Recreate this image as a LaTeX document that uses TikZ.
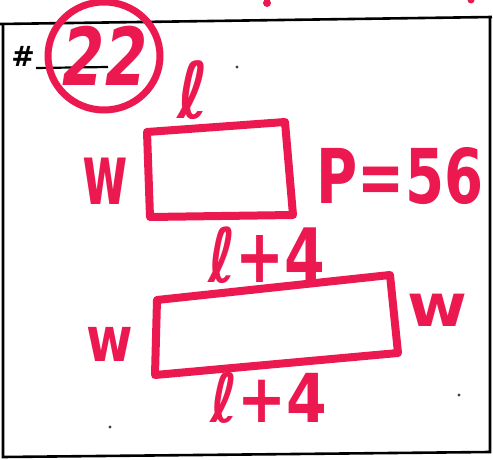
\documentclass[tikz,border=0pt]{standalone}
\usepackage{fontspec}
\newfontfamily\hand{DejaVu Sans}
\definecolor{ink}{RGB}{236,24,80}
\begin{document}
\begin{tikzpicture}[x=1pt,y=-1pt,
  frame/.style={line width=2.6pt,black},
  pen/.style={line width=8pt,ink,line join=round,line cap=round},
  lbl/.style={inner sep=0pt,text=ink,font=\hand\bfseries},
  speck/.style={fill=black!75}]
\useasboundingbox (0,0) rectangle (493,460);
% frame
\draw[frame] (0,24) -- (492,17);
\draw[frame] (3,24) -- (3,457) -- (490,452) -- (490,17);
% header
\node[inner sep=0pt,font=\hand\bfseries\fontsize{28}{28}\selectfont] (hash) at (23,56) {\#};
\draw[line width=2.2pt] (36,68) -- (108,67);
\draw[ink,line width=7pt] (104,56) ellipse [x radius=56, y radius=54];
\node[lbl,xscale=0.76,font=\hand\bfseries\itshape\fontsize{80}{80}\selectfont] (num) at (105,56) {22};
% small rectangle
\draw[pen] (147,132) -- (285,122) -- (293,215) -- (150,217) -- cycle;
\node[lbl,xscale=0.85,font=\hand\bfseries\fontsize{78}{78}\selectfont] (l1) at (193,90) {ℓ};
\node[lbl,xscale=0.58,font=\hand\bfseries\fontsize{85}{85}\selectfont] (w1) at (105,181) {w};
\node[lbl,xscale=0.78,yscale=1.05,font=\hand\bfseries\fontsize{72}{72}\selectfont] (P) at (400,176) {P=56};
% large rectangle
\draw[pen] (157,300) -- (390,275) -- (398,353) -- (155,375) -- cycle;
\node[lbl,xscale=0.78,font=\hand\bfseries\fontsize{75}{75}\selectfont] (l2) at (267,255) {ℓ+4};
\node[lbl,xscale=0.63,yscale=0.78,font=\hand\bfseries\fontsize{80}{80}\selectfont] (w2) at (110,344) {w};
\node[lbl,xscale=0.81,yscale=0.74,font=\hand\bfseries\fontsize{80}{80}\selectfont] (w3) at (437,310) {w};
\node[lbl,xscale=0.78,yscale=0.9,font=\hand\bfseries\fontsize{75}{75}\selectfont] (l3) at (269,398) {ℓ+4};
% specks
\fill[speck] (237,67) circle (1.6);
\fill[speck] (110,427) circle (1.6);
\fill[speck] (459,395) circle (1.6);
\fill[ink] (267,3) circle (4);
\fill[ink] (471,0) circle (3.5);
\end{tikzpicture}
\end{document}
